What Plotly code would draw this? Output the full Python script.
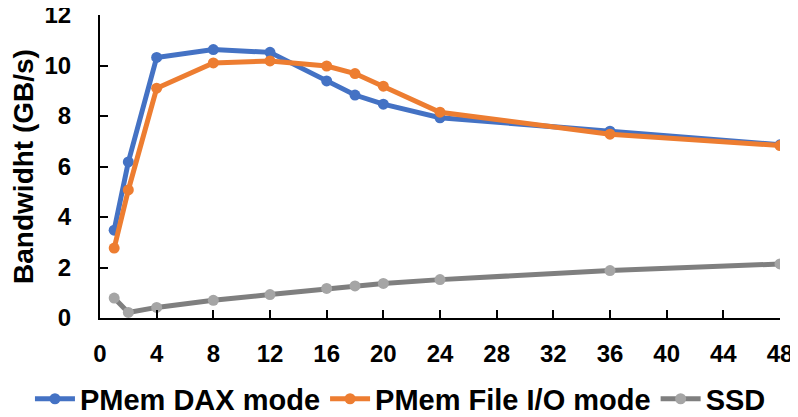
import plotly.graph_objects as go

threads = [1, 2, 4, 8, 12, 16, 18, 20, 24, 36, 48]
dax_mode = [3.48, 6.18, 10.32, 10.63, 10.52, 9.39, 8.83, 8.47, 7.93, 7.4, 6.86]
file_io_mode = [2.77, 5.07, 9.1, 10.1, 10.18, 9.98, 9.68, 9.18, 8.15, 7.28, 6.83]
ssd = [0.79, 0.22, 0.42, 0.7, 0.93, 1.17, 1.27, 1.37, 1.52, 1.88, 2.14]

font_family = "Liberation Sans, Arial"

fig = go.Figure()
fig.add_trace(go.Scatter(x=threads, y=dax_mode, mode="lines+markers", name="PMem DAX mode",
                         line=dict(color="#4472C4", width=5),
                         marker=dict(color="#4472C4", size=11)))
fig.add_trace(go.Scatter(x=threads, y=file_io_mode, mode="lines+markers", name="PMem File I/O mode",
                         line=dict(color="#ED7D31", width=5),
                         marker=dict(color="#ED7D31", size=11)))
fig.add_trace(go.Scatter(x=threads, y=ssd, mode="lines+markers", name="SSD",
                         line=dict(color="#7F7F7F", width=5),
                         marker=dict(color="#A5A5A5", size=11)))

# ticks point inward, labels sit well away from the axis lines
fig.update_xaxes(range=[0, 48], tickvals=list(range(0, 49, 4)), showline=True,
                 linecolor="black", linewidth=2, ticks="inside", ticklen=8, tickwidth=2,
                 tickcolor="black", showgrid=False, zeroline=False, automargin=False,
                 ticklabelstandoff=13, ticklabeloverflow="allow",
                 tickfont=dict(family=font_family, size=24, color="black", weight="bold"))
fig.update_yaxes(range=[0, 12], dtick=2, showline=True, linecolor="black", linewidth=2,
                 ticks="inside", ticklen=8, tickwidth=2, tickcolor="black",
                 showgrid=False, zeroline=False, automargin=False,
                 ticklabelstandoff=22, ticklabeloverflow="allow",
                 tickfont=dict(family=font_family, size=24, color="black", weight="bold"),
                 title=dict(text="Bandwidht (GB/s)", standoff=8,
                            font=dict(family=font_family, size=28, color="black", weight="bold")))

# page body adds 8px offset, so the figure is 8px smaller than the window
fig.update_layout(width=790, height=409, plot_bgcolor="white", paper_bgcolor="white",
                  margin=dict(l=92, r=18, t=7, b=99, autoexpand=False),
                  legend=dict(orientation="h", x=-0.103, xanchor="left", y=-0.267, yanchor="middle",
                              bgcolor="rgba(0,0,0,0)",
                              font=dict(family=font_family, size=29, color="black", weight="bold"),
                              itemwidth=40, tracegroupgap=0))
fig.write_html("out.html")
